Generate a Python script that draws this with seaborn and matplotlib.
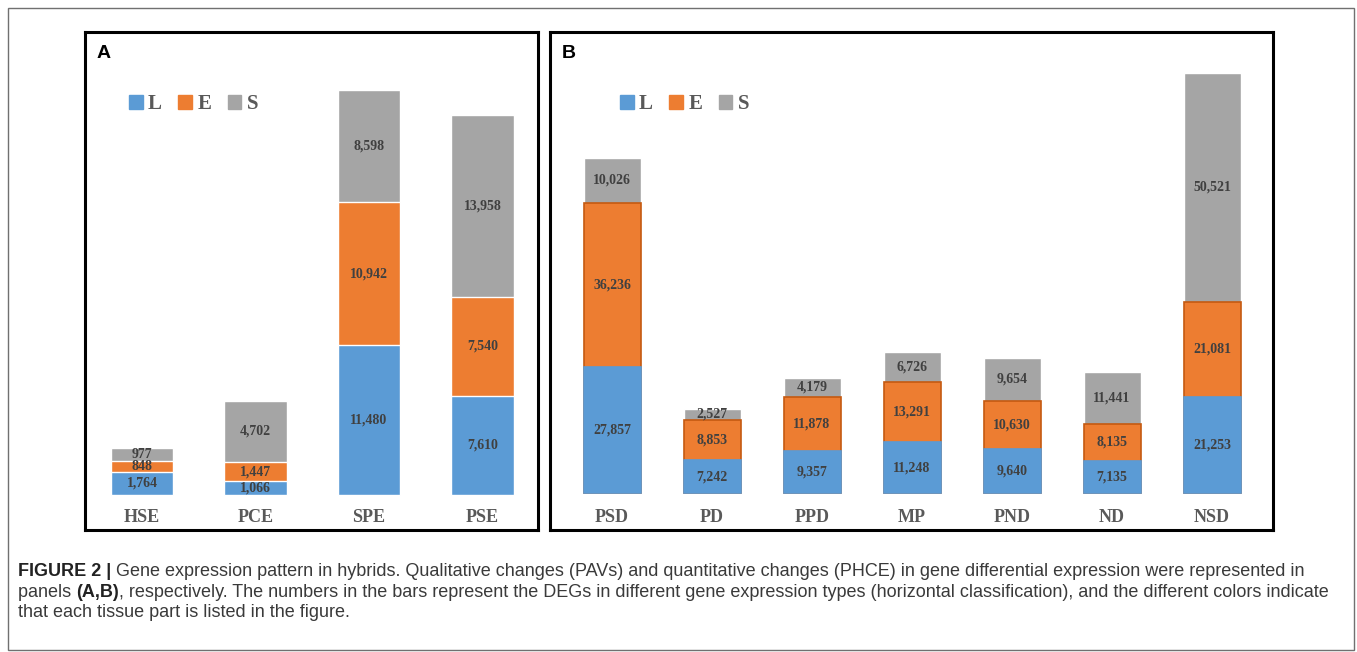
import matplotlib
matplotlib.use("Agg")
import matplotlib.pyplot as plt
from matplotlib.patches import Patch, Rectangle
from matplotlib.font_manager import FontProperties
import pandas as pd
import seaborn as sns

# panel A data (PAVs)
cats_a = ["HSE", "PCE", "SPE", "PSE"]
l_a = [1764, 1066, 11480, 7610]
e_a = [848, 1447, 10942, 7540]
s_a = [977, 4702, 8598, 13958]

# panel B data (PHCE)
cats_b = ["PSD", "PD", "PPD", "MP", "PND", "ND", "NSD"]
l_b = [27857, 7242, 9357, 11248, 9640, 7135, 21253]
e_b = [36236, 8853, 11878, 13291, 10630, 8135, 21081]
s_b = [10026, 2527, 4179, 6726, 9654, 11441, 50521]

series = ["L", "E", "S"]
colors = {"L": "#5B9BD5", "E": "#ED7D31", "S": "#A5A5A5"}

W, H = 1357, 652
sns.set_theme(style="white")
plt.rcParams["font.family"] = ["Liberation Sans", "DejaVu Sans"]
fig = plt.figure(figsize=(W / 100, H / 100), dpi=100)

serif = "Liberation Serif"


def panel(cats, l, e, s, box, first_px, step_px, width, base_px, top_px,
          orange_edge, legend_px, letter):
    x0, y0, x1, y1 = box
    ax = fig.add_axes([x0 / W, 1 - y1 / H, (x1 - x0) / W, (y1 - y0) / H])
    df = pd.DataFrame({"cat": cats, "L": l, "E": e, "S": s})
    df["LE"] = df["L"] + df["E"]
    df["LES"] = df["LE"] + df["S"]

    sns.barplot(data=df, x="cat", y="LES", color=colors["S"], saturation=1,
                width=width, errorbar=None, ax=ax)
    if orange_edge:
        kw_e = dict(edgecolor="#C55A11", linewidth=1.2)
        kw_l = dict(edgecolor=colors["L"], linewidth=1.2)
    else:
        kw_e, kw_l = {}, {}
    sns.barplot(data=df, x="cat", y="LE", color=colors["E"], saturation=1,
                width=width, errorbar=None, ax=ax, **kw_e)
    sns.barplot(data=df, x="cat", y="L", color=colors["L"], saturation=1,
                width=width, errorbar=None, ax=ax, **kw_l)

    # scales matched to the box geometry
    scale = (base_px - top_px) / df["LES"].max()
    ax.set_ylim(-(y1 - base_px) / scale, (base_px - y0) / scale)
    ax.set_xlim((x0 - first_px) / step_px, (x1 - first_px) / step_px)

    for i, row in df.iterrows():
        bottom = 0
        for k in series:
            v = row[k]
            ax.text(i, bottom + v / 2, f"{v:,}", ha="center", va="center",
                    fontsize=10, fontweight="bold", family=serif, color="#404040")
            bottom += v

    ax.set_xlabel("")
    ax.set_ylabel("")
    ax.set_yticks([])
    ax.set_xticks(range(len(cats)))
    ax.set_xticklabels(cats, fontsize=13, fontweight="bold", family=serif,
                       color="#595959")
    ax.tick_params(axis="x", length=0, pad=-15)
    for sp in ax.spines.values():
        sp.set_visible(True)
        sp.set_color("black")
        sp.set_linewidth(2.2)

    handles = [Patch(color=colors[k]) for k in series]
    ax.legend(handles, series, ncol=3, loc="center left",
              bbox_to_anchor=(legend_px[0] / W, 1 - legend_px[1] / H),
              bbox_transform=fig.transFigure, frameon=False,
              prop=FontProperties(family=serif, weight="bold", size=15),
              labelcolor="#595959", handlelength=0.65, handleheight=0.65,
              handletextpad=0.25, columnspacing=0.8, borderpad=0,
              borderaxespad=0)
    fig.text((x0 + 12) / W, 1 - 54 / H, letter, fontsize=14, fontweight="bold",
             ha="left", va="center", color="black")
    return ax


panel(cats_a, l_a, e_a, s_a, (85, 32, 538, 530), 142, 113.5, 0.55, 495, 90,
      False, (129, 104), "A")
panel(cats_b, l_b, e_b, s_b, (550, 32, 1273, 530), 612, 100, 0.57, 493, 73,
      True, (620, 104), "B")

# outer frame
fig.add_artist(Rectangle((8 / W, 1 - 650 / H), (1354 - 8) / W, (650 - 8) / H,
                         transform=fig.transFigure, fill=False,
                         edgecolor="#707070", linewidth=1))

# caption
cap_color = "#3a3a3a"
cap_size = 13
lines = [
    [("FIGURE 2 |", "bold"),
     (" Gene expression pattern in hybrids. Qualitative changes (PAVs) and "
      "quantitative changes (PHCE) in gene differential expression were represented in",
      "normal")],
    [("panels ", "normal"), ("(A,B)", "bold"),
     (", respectively. The numbers in the bars represent the DEGs in different gene "
      "expression types (horizontal classification), and the different colors indicate",
      "normal")],
    [("that each tissue part is listed in the figure.", "normal")],
]
baselines = [576, 597, 617]
renderer = fig.canvas.get_renderer()
for parts, yb in zip(lines, baselines):
    x = 18
    for txt, wt in parts:
        t = fig.text(x / W, 1 - yb / H, txt, fontsize=cap_size, fontweight=wt,
                     color="#222222" if wt == "bold" else cap_color,
                     ha="left", va="baseline")
        x = t.get_window_extent(renderer).x1

fig.savefig("out.png", dpi=100)
